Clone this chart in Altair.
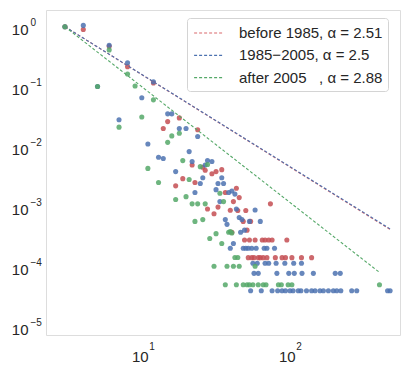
import altair as alt
import pandas as pd

# ---- data (k, P(k)) ----
red_k = [3, 4, 6, 8, 12, 14, 15, 17, 18, 19, 22, 23, 24, 26, 27, 28, 30, 31, 32, 33, 35, 37,
         40, 41, 42, 44, 45, 46, 49, 51, 52, 55, 75,
         50, 54, 59, 66, 69, 73, 77, 97,
         53, 56, 58, 62, 64, 67, 71, 81, 90, 95, 105, 122, 143]
red_v = [1.0, 0.9, 0.47, 0.215, 0.115, 0.020, 0.026, 0.0022, 0.030, 0.0029, 0.0049, 0.0025,
         0.019, 0.0045, 0.0040, 0.0009, 0.0035, 0.00075, 0.0038, 0.00097, 0.0041, 0.0017,
         0.00086, 0.00037, 0.0012, 0.0020, 0.00085, 0.0014, 0.00056, 0.00085, 0.0004, 0.00056, 0.0011,
         2.74e-4, 2.74e-4, 2.74e-4, 2.74e-4, 2.74e-4, 2.74e-4, 2.74e-4, 2.74e-4,
         1.39e-4, 1.39e-4, 1.39e-4, 1.39e-4, 1.39e-4, 1.39e-4, 1.39e-4, 1.39e-4, 1.39e-4,
         1.39e-4, 1.39e-4, 1.39e-4, 1.39e-4]

blue_k = [3, 4, 5, 6, 7, 8, 10, 11, 12, 13, 14, 15, 16, 17, 18, 20, 21, 22, 23, 24, 25, 26,
          27, 28, 30, 32, 33, 34, 35, 36, 37, 38, 39, 40, 41, 42, 43, 44, 46, 47, 48, 50, 53,
          54, 59, 64,
          49, 51, 56, 60, 68, 71, 80,
          57, 61, 69, 73, 82, 94, 108, 122,
          58, 62, 83, 100, 109, 123, 147, 207, 224,
          55, 65, 77, 84, 90, 95, 102, 107, 116, 121, 132, 143, 151, 163, 172, 186, 201, 212,
          226, 268, 290, 470, 489]
blue_v = [1.0, 1.05, 0.1, 0.49, 0.028, 0.25, 0.065, 0.011, 0.12, 0.0066, 0.0063, 0.035, 0.035,
          0.0038, 0.020, 0.020, 0.0082, 0.0056, 0.0017, 0.0147, 0.0024, 0.0030, 0.0049, 0.0058,
          0.0056, 0.0019, 0.0024, 0.0012, 0.0030, 0.0024, 0.0006, 0.0005, 0.0017, 0.0002,
          0.0018, 0.00024, 0.0016, 0.0009, 0.00065, 0.00037, 0.0006, 0.0004, 0.0002,
          0.00056, 0.00087, 0.00056,
          2.0e-4, 2.0e-4, 2.0e-4, 2.0e-4, 2.0e-4, 2.0e-4, 2.0e-4,
          1.12e-4, 1.12e-4, 1.12e-4, 1.12e-4, 1.12e-4, 1.12e-4, 1.12e-4, 1.12e-4,
          7.6e-5, 7.6e-5, 7.6e-5, 7.6e-5, 7.6e-5, 7.6e-5, 7.6e-5, 7.6e-5, 7.6e-5,
          3.9e-5, 3.9e-5, 3.9e-5, 3.9e-5, 3.9e-5, 3.9e-5, 3.9e-5, 3.9e-5, 3.9e-5, 3.9e-5,
          3.9e-5, 3.9e-5, 3.9e-5, 3.9e-5, 3.9e-5, 3.9e-5, 3.9e-5, 3.9e-5, 3.9e-5, 3.9e-5,
          3.9e-5, 3.9e-5, 3.9e-5]

green_k = [3, 5, 6, 7, 8, 9, 10, 11, 12, 13, 15, 16, 17, 18, 19, 20, 21, 22, 23, 24, 25, 26,
           27, 28, 29, 32, 34, 35, 36, 39, 40, 41, 43, 45,
           31, 38, 42, 46, 59,
           37, 44, 49, 52, 54, 57, 62, 67, 70, 85, 89, 99, 105, 414]
green_v = [1.0, 0.1, 0.41, 0.021, 0.162, 0.102, 0.031, 0.0043, 0.060, 0.0025, 0.0117, 0.015,
           0.0013, 0.0166, 0.0058, 0.00145, 0.0028, 0.0011, 0.00056, 0.0011, 0.0046, 0.0006,
           0.0011, 0.0050, 0.00029, 0.00035, 0.00165, 0.00024, 0.0012, 0.00037, 0.00038,
           0.00036, 0.00014, 0.00014,
           1.0e-4, 1.0e-4, 1.0e-4, 1.0e-4, 1.0e-4,
           4.9e-5, 4.9e-5, 4.9e-5, 4.9e-5, 4.9e-5, 4.9e-5, 4.9e-5, 4.9e-5, 4.9e-5, 4.9e-5,
           4.9e-5, 4.9e-5, 4.9e-5, 4.9e-5]

series_names = ["before 1985", "1985-2005", "after 2005"]
point_colors = ["#c44e52", "#4c72b0", "#55a868"]

# fitted power-law lines (end points)
fit_labels = ["before 1985, α = 2.51", "1985−2005, α = 2.5",
              "after 2005\u00a0\u00a0\u00a0, α = 2.88"]
red_fit_k, red_fit_v = [3, 489], [1.0, 4.1e-4]
blue_fit_k, blue_fit_v = [3, 489], [1.0, 4.2e-4]
green_fit_k, green_fit_v = [3, 411], [1.0, 8.0e-5]
line_colors = ["#d9696c", "#4c72b0", "#55a868"]

x_ticks = [10, 100]
y_ticks = [1, 0.1, 0.01, 0.001, 1e-4, 1e-5]

# ---- tables ----
rows = []
order = 0
for name, ks, vs in zip(series_names, [red_k, blue_k, green_k], [red_v, blue_v, green_v]):
    for k, v in zip(ks, vs):
        rows.append({"k": k, "p": v, "series": name, "ord": order})
        order += 1
pts = pd.DataFrame(rows)

lrows = []
for lab, ks, vs in zip(fit_labels, [red_fit_k, blue_fit_k, green_fit_k],
                       [red_fit_v, blue_fit_v, green_fit_v]):
    for k, v in zip(ks, vs):
        lrows.append({"k": k, "p": v, "fit": lab})
lines = pd.DataFrame(lrows)

FONT = "Liberation Sans, Arial, sans-serif"
TXT = "#262626"
xscale = alt.Scale(type="log", domain=[2.23, 571], nice=False)
yscale = alt.Scale(type="log", domain=[7.1e-6, 1.9], nice=False)

y_exp_expr = ("datum.value > 0.5 ? '0' : datum.value > 0.05 ? '−1' : "
              "datum.value > 0.005 ? '−2' : datum.value > 0.0005 ? '−3' : "
              "datum.value > 0.00005 ? '−4' : '−5'")

# base "10" labels
xaxis = alt.Axis(values=x_ticks, title=None, ticks=False, grid=False, domain=False,
                 labelExpr="'10'", labelFontSize=15, labelFont=FONT, labelColor=TXT,
                 labelPadding=14, labelOffset=-2, labelBound=False, labelOverlap=False)
yaxis = alt.Axis(values=y_ticks, title=None, ticks=False, grid=False, domain=False,
                 labelExpr="'10'", labelFontSize=15, labelFont=FONT, labelColor=TXT,
                 labelPadding=18, labelOffset=3, labelBound=False, labelOverlap=False)
# exponent labels
xaxis_exp = alt.Axis(values=x_ticks, title=None, ticks=False, grid=False, domain=False,
                     orient="bottom", labelExpr="datum.value < 50 ? '1' : '2'",
                     labelFontSize=10, labelFont=FONT, labelColor=TXT, labelAlign="left",
                     labelPadding=6, labelOffset=7, labelBound=False, labelOverlap=False)
yaxis_exp = alt.Axis(values=y_ticks, title=None, ticks=False, grid=False, domain=False,
                     orient="left", labelExpr=y_exp_expr,
                     labelFontSize=10, labelFont=FONT, labelColor=TXT, labelAlign="left",
                     labelPadding=16, labelOffset=-4, labelBound=False, labelOverlap=False)

points = alt.Chart(pts).mark_circle(size=26, opacity=0.85).encode(
    x=alt.X("k:Q", scale=xscale, axis=xaxis),
    y=alt.Y("p:Q", scale=yscale, axis=yaxis),
    color=alt.Color("series:N", scale=alt.Scale(domain=series_names, range=point_colors),
                    legend=None),
    order=alt.Order("ord:Q"),
)

exps = alt.Chart(lines).mark_line(opacity=0).encode(
    x=alt.X("k:Q", scale=xscale, axis=xaxis_exp),
    y=alt.Y("p:Q", scale=yscale, axis=yaxis_exp),
    detail="fit:N",
)

fits = alt.Chart(lines).mark_line(strokeDash=[3, 2], strokeWidth=1.1).encode(
    x=alt.X("k:Q", scale=xscale, axis=None),
    y=alt.Y("p:Q", scale=yscale, axis=None),
    color=alt.Color("fit:N", scale=alt.Scale(domain=fit_labels, range=line_colors),
                    legend=alt.Legend(orient="none", legendX=141, legendY=8, title=None,
                                      symbolType="M-1.6,0H1.6", symbolSize=324,
                                      symbolOffset=6.5,
                                      symbolDash=[3, 2], symbolStrokeWidth=1.2,
                                      symbolFillColor="transparent",
                                      labelFontSize=15, labelFont=FONT, labelColor=TXT,
                                      labelOffset=20.5, rowPadding=4.3, padding=5,
                                      strokeColor="#d4d4d4", fillColor="white",
                                      cornerRadius=3)),
)

chart = alt.layer(points, exps, fits).resolve_scale(color="independent").resolve_axis(
    x="independent", y="independent"
).properties(
    width=354, height=325,
    autosize=alt.AutoSizeParams(type="none"),
    padding={"left": 46, "top": 10, "right": 6, "bottom": 30},
).configure_view(stroke="#a8a8a8", strokeWidth=1.2).configure(background="white")

chart.save("out.html", embed_options={"renderer": "svg", "actions": False})
